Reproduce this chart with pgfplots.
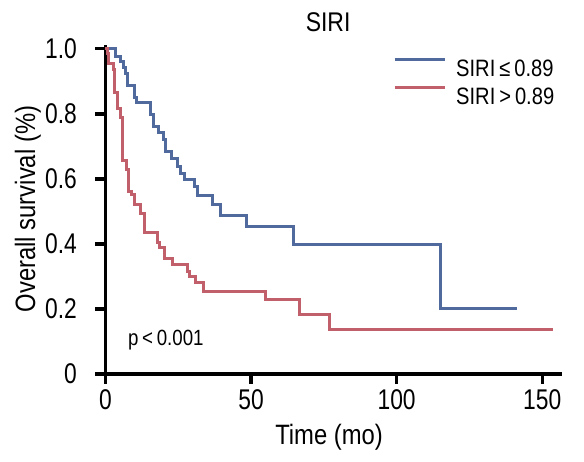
\documentclass[border=0pt]{standalone}
\usepackage{fontspec}
\setmainfont{Liberation Sans}[FakeStretch=0.85]
\newfontfamily\tickfont{Liberation Sans}[FakeStretch=0.8]
\usepackage{pgfplots}
\pgfplotsset{compat=1.18}
\definecolor{siriblue}{RGB}{80,106,158}
\definecolor{sirired}{RGB}{193,96,106}
\begin{document}
\begin{tikzpicture}
\begin{axis}[
  name=ax,
  at={(0,0)}, anchor=south west,
  scale only axis,
  width=456.2pt, height=329pt,
  xmin=0, xmax=156.7, ymin=0, ymax=1.012,
  axis x line*=bottom, axis y line*=left,
  axis line style={line width=3.2pt, black},
  tick align=outside,
  major tick length=10pt,
  tick style={line width=3.2pt, black},
  xtick={0,50,100,150},
  ytick={0,0.2,0.4,0.6,0.8,1},
  yticklabels={0,0.2,0.4,0.6,0.8,1.0},
  /pgf/number format/assume math mode=true,
  ticklabel style={font=\tickfont\fontsize{28.5}{30}\selectfont, inner sep=0pt},
  yticklabel style={anchor=east, xshift=-18.5pt},
  xticklabel style={anchor=north, yshift=-5.7pt},
  title={SIRI},
  title style={font=\fontsize{27}{30}\selectfont, at={(0.488,1.0234)}, anchor=base, inner sep=0pt},
  xlabel={Time (mo)},
  xlabel style={font=\fontsize{28}{30}\selectfont, at={(0.49,-0.2158)}, anchor=base, inner sep=0pt},
  ylabel={Overall survival (\%)},
  ylabel style={font=\fontsize{28}{30}\selectfont, at={(-0.1545,0.5015)}, anchor=base, rotate=0, inner sep=0pt},
  clip=false,
  legend style={at={(0.6236,0.9665)}, anchor=north west, draw=none, fill=none,
    font=\fontsize{23.7}{26}\selectfont, row sep=9.3pt, column sep=10pt,
    nodes={inner sep=0pt, text height=17pt, text depth=0pt}},
  legend cell align=left,
  legend image code/.code={\draw[#1, line width=3pt] (0pt,8.5pt) -- (50pt,8.5pt);},
]
\addplot[const plot, siriblue, line width=3pt] coordinates {
(0,1.0) (3.3,0.977) (5.0,0.961) (6.1,0.942) (6.8,0.925) (7.4,0.887)
(10.1,0.849) (10.8,0.834) (15.3,0.797) (16.4,0.762) (18.1,0.742)
(20.0,0.721) (20.7,0.685) (22.7,0.664) (24.7,0.639) (25.8,0.618)
(27.0,0.598) (30.4,0.577) (31.5,0.549) (36.6,0.520) (39.5,0.488)
(48.6,0.454) (64.6,0.398) (115.1,0.200) (141.3,0.200)
};
\addlegendentry{SIRI\,≤\,0.89}
\addplot[const plot, sirired, line width=3pt] coordinates {
(0,1.0) (0.6,0.985) (1.2,0.955) (2.6,0.936) (3.0,0.865) (4.2,0.817)
(5.1,0.790) (5.9,0.658) (7.1,0.628) (7.8,0.562) (9.0,0.552) (10.1,0.521)
(12.0,0.495) (13.3,0.434) (17.9,0.403) (18.4,0.388) (20.2,0.354)
(23.0,0.336) (28.1,0.316) (29.0,0.300) (31.0,0.280) (33.8,0.254)
(54.9,0.229) (66.6,0.182) (76.9,0.136) (153.7,0.136)
};
\addlegendentry{SIRI\,>\,0.89}
\node[anchor=base west, font=\fontsize{22}{24}\selectfont, inner sep=0pt] at (axis cs:7.7,0.087) {p\,<\,0.001};
\end{axis}
\pgfresetboundingbox
\path[use as bounding box] (-105.5pt,-88pt) rectangle (478.5pt,374pt);
\end{tikzpicture}
\end{document}
